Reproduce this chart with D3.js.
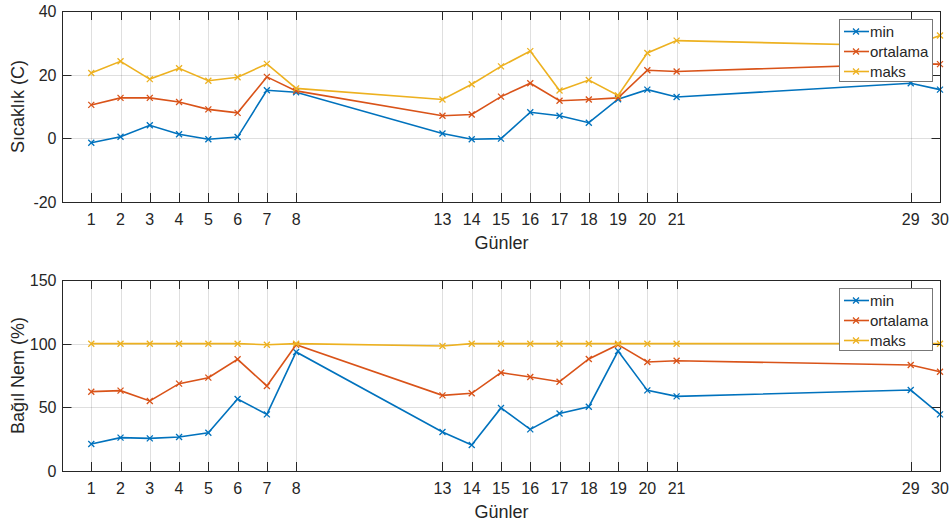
<!DOCTYPE html>
<html>
<head>
<meta charset="utf-8">
<script src="https://d3js.org/d3.v7.min.js"></script>
<style>
  body { margin: 0; background: #fff; }
  text { font-family: "Liberation Sans", Arial, Helvetica, sans-serif; fill: #262626; }
</style>
</head>
<body>
<script>
    var width = 952;
    var height = 527;

    var days = [1, 2, 3, 4, 5, 6, 7, 8, 13, 14, 15, 16, 17, 18, 19, 20, 21, 29, 30];
    var seriesNames = ["min", "ortalama", "maks"];
    var colors = ["#0072BD", "#D95319", "#EDB120"];

    // Sicaklik (C)
    var tempMin = [-1.4, 0.5, 4.1, 1.3, -0.3, 0.4, 15.1, 14.5, 1.5, -0.3, -0.1, 8.2, 7.1, 4.9, 12.3, 15.3, 13.0, 17.3, 15.3];
    var tempAvg = [10.5, 12.7, 12.7, 11.4, 9.1, 8.0, 19.3, 14.9, 7.1, 7.5, 13.1, 17.3, 11.8, 12.2, 12.7, 21.4, 21.0, 23.4, 23.3];
    var tempMax = [20.5, 24.2, 18.6, 22.0, 18.1, 19.2, 23.4, 15.7, 12.2, 17.0, 22.6, 27.4, 15.0, 18.3, 13.5, 26.8, 30.7, 29.0, 32.3];

    // Bagil nem (%)
    var humMin = [21.2, 26.2, 25.6, 26.7, 30.1, 56.5, 44.5, 93.5, 30.6, 20.4, 49.5, 32.7, 45.2, 50.5, 94.2, 63.3, 58.6, 63.6, 44.5];
    var humAvg = [62.3, 63.1, 55.0, 68.6, 73.3, 87.7, 66.8, 99.2, 59.4, 61.0, 77.2, 73.8, 70.1, 88.0, 99.2, 85.6, 86.6, 83.2, 78.0];
    var humMax = [100, 100, 100, 100, 100, 100, 99.2, 100, 98.2, 100, 100, 100, 100, 100, 100, 100, 100, 100, 100];

    var tempTicks = [-20, 0, 20, 40];
    var humTicks = [0, 50, 100, 150];

    var svg = d3.select("body").append("svg")
        .attr("width", width)
        .attr("height", height);

    var x = d3.scaleLinear().domain([0, 30]).range([62, 940]);

    function drawPanel(top, bottom, yDomain, yTicks, yLabel, series) {
        var y = d3.scaleLinear().domain(yDomain).range([bottom, top]);
        var g = svg.append("g");
        var tickLen = 9;

        // grid
        g.selectAll(".vgrid").data(days).enter().append("line")
            .attr("x1", function (d) { return Math.round(x(d)) + 0.5; })
            .attr("x2", function (d) { return Math.round(x(d)) + 0.5; })
            .attr("y1", top).attr("y2", bottom)
            .style("stroke", "#262626").style("stroke-opacity", 0.15);
        g.selectAll(".hgrid").data(yTicks.slice(1, -1)).enter().append("line")
            .attr("x1", x.range()[0]).attr("x2", x.range()[1])
            .attr("y1", function (d) { return Math.round(y(d)) + 0.5; })
            .attr("y2", function (d) { return Math.round(y(d)) + 0.5; })
            .style("stroke", "#262626").style("stroke-opacity", 0.15);

        // series
        var line = d3.line()
            .x(function (d, i) { return x(days[i]); })
            .y(function (d) { return y(d); });
        series.forEach(function (vals, k) {
            g.append("path")
                .datum(vals)
                .attr("d", line)
                .style("fill", "none")
                .style("stroke", colors[k])
                .style("stroke-width", 1.6);
            g.selectAll(".mk" + k).data(vals).enter().append("path")
                .attr("transform", function (d, i) { return "translate(" + x(days[i]) + "," + y(d) + ")"; })
                .attr("d", "M-3,-3L3,3M-3,3L3,-3")
                .style("stroke", colors[k])
                .style("stroke-width", 1.3);
        });

        // box
        var x0 = x.range()[0] + 0.5, x1 = x.range()[1] + 0.5;
        g.append("rect")
            .attr("x", x0).attr("y", top + 0.5)
            .attr("width", x1 - x0).attr("height", bottom - top)
            .style("fill", "none").style("stroke", "#262626").style("stroke-width", 1);

        // x ticks (inside, top and bottom)
        days.forEach(function (d) {
            var px = Math.round(x(d)) + 0.5;
            g.append("line").attr("x1", px).attr("x2", px)
                .attr("y1", bottom).attr("y2", bottom - tickLen)
                .style("stroke", "#262626");
            g.append("line").attr("x1", px).attr("x2", px)
                .attr("y1", top).attr("y2", top + tickLen)
                .style("stroke", "#262626");
            g.append("text")
                .attr("x", x(d)).attr("y", bottom + 23)
                .attr("text-anchor", "middle")
                .style("font-size", "16px")
                .text(d);
        });

        // y ticks
        yTicks.forEach(function (t) {
            var py = Math.round(y(t)) + 0.5;
            g.append("line").attr("x1", x0).attr("x2", x0 + tickLen)
                .attr("y1", py).attr("y2", py).style("stroke", "#262626");
            g.append("line").attr("x1", x1).attr("x2", x1 - tickLen)
                .attr("y1", py).attr("y2", py).style("stroke", "#262626");
            g.append("text")
                .attr("x", x0 - 6).attr("y", y(t) + 6)
                .attr("text-anchor", "end")
                .style("font-size", "16px")
                .text(t);
        });

        // axis labels
        g.append("text")
            .attr("x", (x0 + x1) / 2).attr("y", bottom + 47)
            .attr("text-anchor", "middle")
            .style("font-size", "18px")
            .text("Günler");
        g.append("text")
            .attr("transform", "translate(24," + (top + bottom) / 2 + ") rotate(-90)")
            .attr("text-anchor", "middle")
            .style("font-size", "18px")
            .text(yLabel);

        // legend
        var lg = g.append("g").attr("transform", "translate(839," + (top + 8) + ")");
        lg.append("rect")
            .attr("x", 0.5).attr("y", 0.5).attr("width", 93).attr("height", 62)
            .style("fill", "#fff").style("stroke", "#777");
        seriesNames.forEach(function (name, k) {
            var ly = 12.5 + k * 20;
            lg.append("line").attr("x1", 5).attr("x2", 30).attr("y1", ly).attr("y2", ly)
                .style("stroke", colors[k]).style("stroke-width", 1.6);
            lg.append("path").attr("transform", "translate(17," + ly + ")")
                .attr("d", "M-3,-3L3,3M-3,3L3,-3")
                .style("stroke", colors[k]).style("stroke-width", 1.3);
            lg.append("text").attr("x", 31).attr("y", ly + 5)
                .style("font-size", "15px")
                .text(name);
        });
    }

    drawPanel(11, 202, [-20, 40], tempTicks, "Sıcaklık (C)", [tempMin, tempAvg, tempMax]);
    drawPanel(280, 471, [0, 150], humTicks, "Bağıl Nem (%)", [humMin, humAvg, humMax]);
</script>
</body>
</html>
